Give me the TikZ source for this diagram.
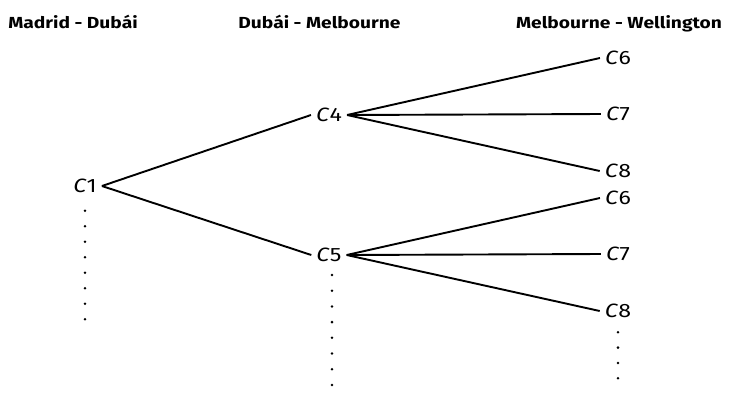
\documentclass[tikz,border=0pt]{standalone}
\usepackage{fontspec}
\setmainfont[FakeStretch=1.2]{Fira Sans}
\begin{document}
\begin{tikzpicture}[x=1pt,y=-1pt,
  lbl/.style={font=\fontsize{19.3}{22}\selectfont, inner sep=5pt},
  hdr/.style={font=\bfseries\fontsize{16}{19}\selectfont, anchor=base, inner sep=0pt},
  br/.style={line width=1.9pt},
  dotc/.style={fill=black}]
\useasboundingbox (0,0) rectangle (734,392);
\node[hdr] (h1) at (73,28) {Madrid - Dubái};
\node[hdr] (h2) at (319.5,28) {Dubái - Melbourne};
\node[hdr] (h3) at (619,28) {Melbourne - Wellington};

\node[lbl] (c1) at (85,186) {\textit{C}1};
\node[lbl] (c4) at (329,115) {\textit{C}4};
\node[lbl] (c5) at (329,255) {\textit{C}5};
\node[lbl] (c6a) at (618,58) {\textit{C}6};
\node[lbl] (c7a) at (618,114) {\textit{C}7};
\node[lbl] (c8a) at (618,171) {\textit{C}8};
\node[lbl] (c6b) at (618,198) {\textit{C}6};
\node[lbl] (c7b) at (618,254) {\textit{C}7};
\node[lbl] (c8b) at (618,311) {\textit{C}8};

\draw[br] (c1.east) -- (c4.west);
\draw[br] (c1.east) -- (c5.west);
\draw[br] (c4.east) -- (c6a.west);
\draw[br] (c4.east) -- (c7a.west);
\draw[br] (c4.east) -- (c8a.west);
\draw[br] (c5.east) -- (c6b.west);
\draw[br] (c5.east) -- (c7b.west);
\draw[br] (c5.east) -- (c8b.west);

\foreach \i in {0,...,7} \fill[dotc] (85,{210.7+15.5*\i}) circle (1.4);
\foreach \i in {0,...,7} \fill[dotc] (332,{275+15.7*\i}) circle (1.4);
\foreach \i in {0,...,3} \fill[dotc] (618,{332.3+15.3*\i}) circle (1.4);
\end{tikzpicture}
\end{document}
